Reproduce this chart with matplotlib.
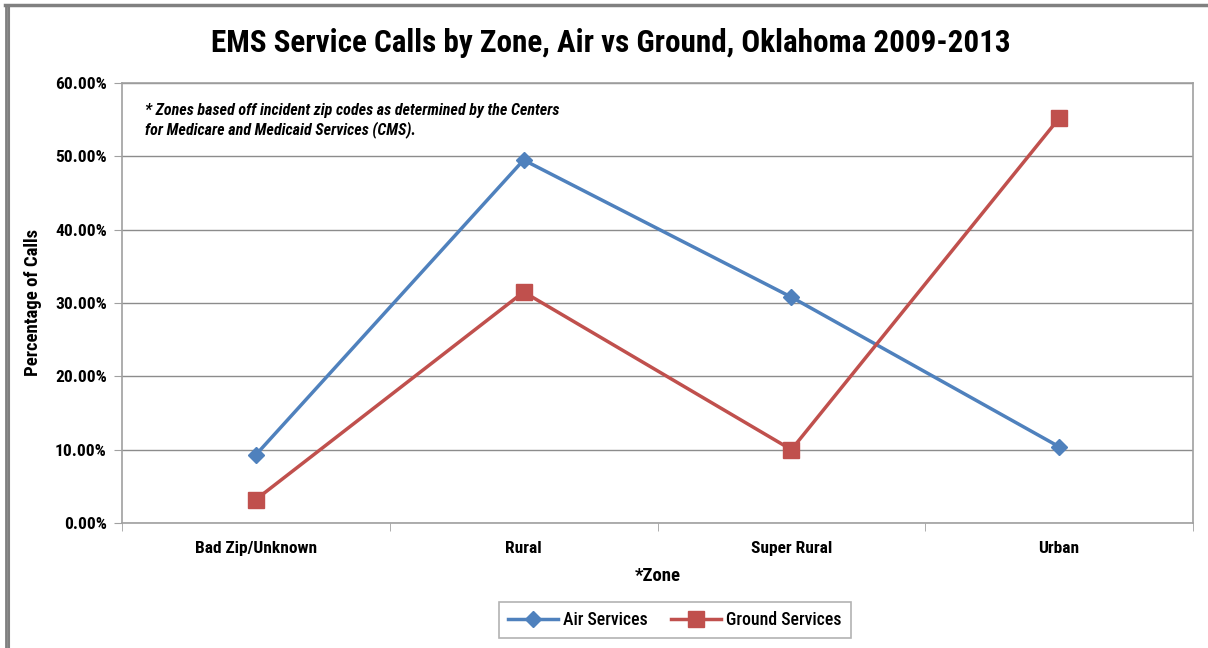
import matplotlib
matplotlib.use("Agg")
import matplotlib.pyplot as plt
from matplotlib.lines import Line2D
from matplotlib.ticker import FuncFormatter, FixedLocator

zones = ["Bad Zip/Unknown", "Rural", "Super Rural", "Urban"]
air = [9.3, 49.5, 30.8, 10.4]
ground = [3.2, 31.5, 10.0, 55.2]
yticks = [0, 10, 20, 30, 40, 50, 60]

plt.rcParams['font.family'] = ['Roboto Condensed', 'DejaVu Sans']

W, H = 1208, 648
fig = plt.figure(figsize=(W/100, H/100), dpi=100)
ax = fig.add_axes([122/W, 1-523/H, (1193-122)/W, (523-83)/H])

x = list(range(len(zones)))
ax.plot(x, air, color='#4F81BD', lw=2.5, marker='D', ms=8, label='Air Services', zorder=3)
ax.plot(x, ground, color='#C0504D', lw=2.5, marker='s', ms=11, label='Ground Services', zorder=3)

ax.set_xlim(-0.5, 3.5)
ax.set_ylim(0, 60)
ax.set_yticks(yticks)
ax.yaxis.set_major_formatter(FuncFormatter(lambda v, p: f"{v:.2f}%"))
ax.set_xticks(x)
ax.set_xticklabels(zones)
ax.xaxis.set_minor_locator(FixedLocator([-0.5, 0.5, 1.5, 2.5, 3.5]))
ax.tick_params(axis='x', which='major', length=0, pad=13, labelsize=12.5)
ax.tick_params(axis='x', which='minor', length=6, color='#A0A0A0', direction='out')
ax.tick_params(axis='y', length=6, color='#A0A0A0', direction='out', labelsize=12.5, pad=5)
for lbl in ax.get_xticklabels() + ax.get_yticklabels():
    lbl.set_fontweight('bold')

ax.grid(axis='y', color='#8C8C8C', lw=1)
ax.set_axisbelow(True)
for s in ax.spines.values():
    s.set_color('#A0A0A0')
    s.set_linewidth(1.2)

ax.set_xlabel('*Zone', fontsize=13.5, fontweight='bold', labelpad=8)
ax.set_ylabel('Percentage of Calls', fontsize=13.5, fontweight='bold', labelpad=9)

fig.text(611/W, 1-43/H, 'EMS Service Calls by Zone, Air vs Ground, Oklahoma 2009-2013',
         ha='center', va='center', fontsize=22.4, fontweight='bold')

ax.text(0.0215, 0.955, '* Zones based off incident zip codes as determined by the Centers\nfor Medicare and Medicaid Services (CMS).',
        transform=ax.transAxes, ha='left', va='top', fontsize=11.5, fontweight='bold',
        style='italic', linespacing=1.25)

leg = fig.legend(loc='center', bbox_to_anchor=(675/W, 1-620/H), ncol=2, frameon=True,
                 fancybox=False, edgecolor='#A0A0A0', fontsize=12.8, handlelength=2.8,
                 columnspacing=1.3, borderpad=0.5, handletextpad=0.3)
leg.get_frame().set_linewidth(1.2)
for t in leg.get_texts():
    t.set_fontweight('medium')

# outer border
fig.add_artist(Line2D([5/W, 1], [1-5/H, 1-5/H], color='#808080', lw=2.5))
fig.add_artist(Line2D([5.5/W, 5.5/W], [0, 1-5/H], color='#808080', lw=2))
fig.add_artist(Line2D([9/W, 9/W], [0, 1-7/H], color='#808080', lw=1.5))

fig.savefig('out.png', dpi=100)
